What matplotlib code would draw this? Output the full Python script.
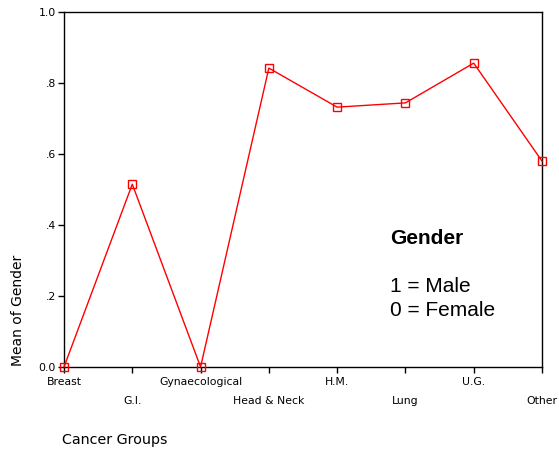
import matplotlib.pyplot as plt
import numpy as np

groups = ['Breast', 'G.I.', 'Gynaecological', 'Head & Neck', 'H.M.', 'Lung', 'U.G.', 'Other']
mean_gender = [0.0, 0.515, 0.0, 0.842, 0.732, 0.744, 0.856, 0.580]
yticks = [0.0, 0.2, 0.4, 0.6, 0.8, 1.0]
ylabels = ['0.0', '.2', '.4', '.6', '.8', '1.0']

fig = plt.figure(figsize=(5.59, 4.55), dpi=100)
ax = fig.add_axes([64/559, 1 - 367/455, (542 - 64)/559, (367 - 12)/455])

x = np.arange(len(groups))
ax.plot(x, mean_gender, color='red', lw=1, marker='s', ms=6,
        mfc='none', mec='red', mew=1, clip_on=False, zorder=3)

ax.set_xlim(0, len(groups) - 1)
ax.set_ylim(0, 1)
ax.set_xticks(x)
ax.set_xticklabels([])
for i, g in enumerate(groups):
    off = -0.043 if i % 2 == 0 else -0.096
    ax.text(i, off, g, transform=ax.get_xaxis_transform(), ha='center', va='center',
            fontsize=7.8, color='black')
ax.set_yticks(yticks)
ax.set_yticklabels(ylabels, fontsize=7.8)
ax.tick_params(direction='out', length=4, width=1, pad=2)
for s in ax.spines.values():
    s.set_linewidth(1)

fig.text(18/559, 1 - 310/455, 'Mean of Gender', rotation=90, ha='center', va='center', fontsize=10)
fig.text(62/559, 1 - 440/455, 'Cancer Groups', ha='left', va='center', fontsize=10.3)

fig.text(390/559, 1 - 238/455, 'Gender', ha='left', va='center', fontsize=15,
         fontweight='bold', family='Liberation Sans')
fig.text(390/559, 1 - 287/455, '1 = Male', ha='left', va='center', fontsize=15,
         family='Liberation Sans')
fig.text(390/559, 1 - 311/455, '0 = Female', ha='left', va='center', fontsize=15,
         family='Liberation Sans')

fig.savefig('out.png', dpi=100)
